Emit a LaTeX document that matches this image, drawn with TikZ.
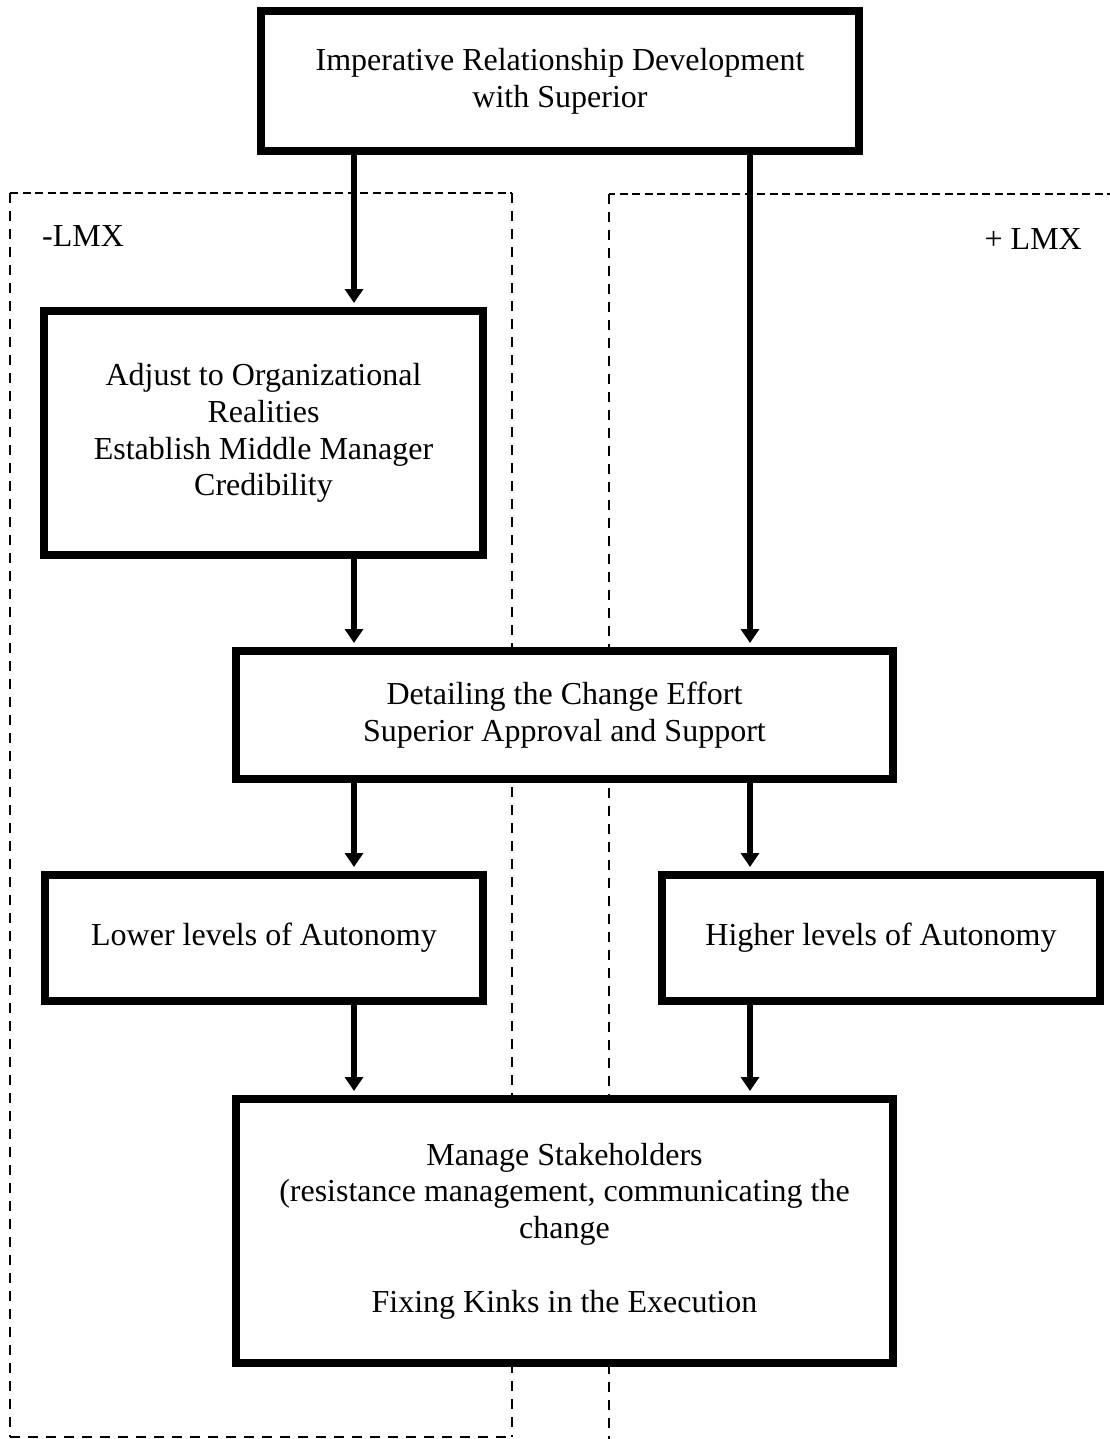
\documentclass[tikz,border=0pt]{standalone}
\usepackage{fontspec}
\setmainfont{Liberation Serif}
\usetikzlibrary{arrows.meta}
\begin{document}
\begin{tikzpicture}[x=1pt,y=-1pt,
  box/.style={draw, line width=8pt, fill=white, inner sep=0pt, align=center,
    font=\fontsize{32}{36.7}\selectfont},
  arr/.style={line width=6pt, -{Triangle[length=14pt,width=18pt]}, shorten >=4pt},
  dashH/.style={line width=2.5pt, dash pattern=on 8pt off 4.5pt},
  dashV/.style={line width=2.5pt, dash pattern=on 10pt off 8pt},
  lbl/.style={inner sep=0pt, font=\fontsize{32}{36.7}\selectfont}]
\useasboundingbox (0,0) rectangle (1110,1439);
\clip (0,0) rectangle (1110,1439);
\fill[white] (0,0) rectangle (1110,1439);

% dashed regions
\draw[dashH] (10,193) -- (512,193);
\draw[dashV] (10,193) -- (10,1437);
\draw[dashV] (512,193) -- (512,1437);
\draw[dashV] (10,1437) -- (512,1437);
\draw[dashH] (1115,194) -- (609,194);
\draw[dashV] (609,194) -- (609,1445);

\node[lbl, anchor=base west] (neg) at (42,247) {-LMX};
\node[lbl, anchor=base east] (pos) at (1082,250) {+ LMX};

% boxes
\node[box, minimum width=598, minimum height=140] (top) at (560,81)
  {Imperative Relationship Development\\with Superior};
\node[box, minimum width=439, minimum height=244] (adj) at (263.5,433)
  {Adjust to Organizational\\Realities\\Establish Middle Manager\\Credibility};
\node[box, minimum width=657, minimum height=128] (det) at (564.5,715)
  {Detailing the Change Effort\\Superior Approval and Support};
\node[box, minimum width=438, minimum height=126] (low) at (264,938)
  {Lower levels of Autonomy};
\node[box, minimum width=438, minimum height=126] (high) at (881,938)
  {Higher levels of Autonomy};
\node[box, minimum width=657, minimum height=264] (man) at (564.5,1231)
  {Manage Stakeholders\\(resistance management, communicating the\\change\\[36.7pt]Fixing Kinks in the Execution};

% connector columns
\coordinate (cL) at (354,0);
\coordinate (cR) at (750,0);

\draw[arr] (cL |- top.south) -- (cL |- adj.north);
\draw[arr] (cR |- top.south) -- (cR |- det.north);
\draw[arr] (cL |- adj.south) -- (cL |- det.north);
\draw[arr] (cL |- det.south) -- (cL |- low.north);
\draw[arr] (cR |- det.south) -- (cR |- high.north);
\draw[arr] (cL |- low.south) -- (cL |- man.north);
\draw[arr] (cR |- high.south) -- (cR |- man.north);
\end{tikzpicture}
\end{document}
